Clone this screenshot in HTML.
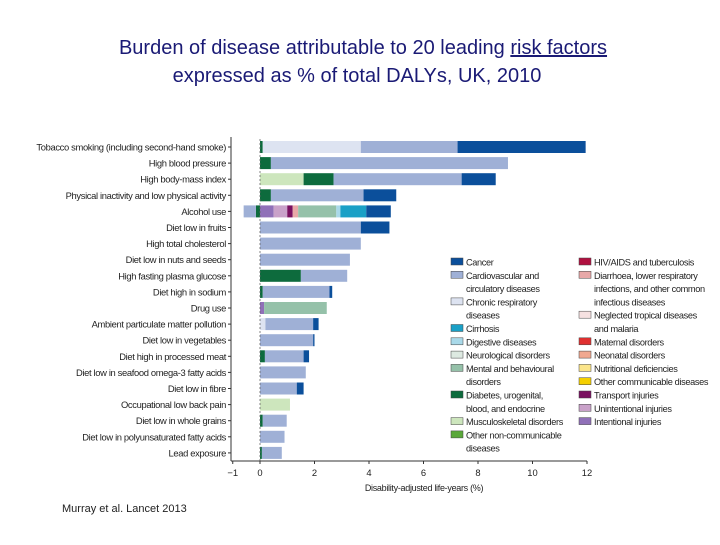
<!DOCTYPE html>
<html><head><meta charset="utf-8"><style>
body{margin:0;background:#fff;width:720px;height:540px;overflow:hidden;font-family:"Liberation Sans",sans-serif}
</style></head><body>
<svg id="chart" width="720" height="540" xmlns="http://www.w3.org/2000/svg" font-family="Liberation Sans, sans-serif">
<text x="363" y="54" text-anchor="middle" font-size="20" fill="#1a1a75">Burden of disease attributable to 20 leading <tspan text-decoration="underline">risk factors</tspan></text>
<text x="357" y="82" text-anchor="middle" font-size="20" fill="#1a1a75">expressed as % of total DALYs, UK, 2010</text>
<text x="62" y="512" font-size="11" fill="#222">Murray et al. Lancet 2013</text>
<g id="plot"></g>
<g id="legend"></g>
</svg>
<script>
const categories=["Tobacco smoking (including second-hand smoke)","High blood pressure","High body-mass index","Physical inactivity and low physical activity","Alcohol use","Diet low in fruits","High total cholesterol","Diet low in nuts and seeds","High fasting plasma glucose","Diet high in sodium","Drug use","Ambient particulate matter pollution","Diet low in vegetables","Diet high in processed meat","Diet low in seafood omega-3 fatty acids","Diet low in fibre","Occupational low back pain","Diet low in whole grains","Diet low in polyunsaturated fatty acids","Lead exposure"];
const musculo=[0,0,1.6,0,0,0,0,0,0,0,0,0,0,0,0,0,1.1,0,0,0];
const diabetes=[0.1,0.4,1.1,0.4,0,0,0,0,1.5,0.1,0,0,0,0.18,0,0,0,0.1,0,0.07];
const chronic=[3.6,0,0,0,0,0,0,0,0,0,0,0.2,0,0,0,0,0,0,0,0];
const intentional=[0,0,0,0,0.5,0,0,0,0,0,0.15,0,0,0,0,0,0,0,0,0];
const unintentional=[0,0,0,0,0.5,0,0,0,0,0,0,0,0,0,0,0,0,0,0,0];
const transport=[0,0,0,0,0.2,0,0,0,0,0,0,0,0,0,0,0,0,0,0,0];
const diarrhoea=[0,0,0,0,0.2,0,0,0,0,0,0,0,0,0,0,0,0,0,0,0];
const mental=[0,0,0,0,1.4,0,0,0,0,0,2.3,0,0,0,0,0,0,0,0,0];
const digestive=[0,0,0,0,0.15,0,0,0,0,0,0,0,0,0,0,0,0,0,0,0];
const cirrhosis=[0,0,0,0,0.95,0,0,0,0,0,0,0,0,0,0,0,0,0,0,0];
const cardio=[3.55,8.7,4.7,3.4,0,3.7,3.7,3.3,1.7,2.45,0,1.75,1.95,1.42,1.68,1.35,0,0.88,0.9,0.73];
const cancer=[4.7,0,1.25,1.2,0.9,1.05,0,0,0,0.1,0,0.2,0.05,0.2,0,0.25,0,0,0,0];
const diabetesNeg=[0,0,0,0,0.15,0,0,0,0,0,0,0,0,0,0,0,0,0,0,0];
const cardioNeg=[0,0,0,0,0.45,0,0,0,0,0,0,0,0,0,0,0,0,0,0,0];
const xTicks=[-1,0,2,4,6,8,10,12];

const C={cancer:"#0b4f9b",cardio:"#9fb0d6",chronic:"#dde3f1",cirrhosis:"#1aa0c6",digestive:"#a9d9e9",neuro:"#dde9e1",mental:"#95c1a9",diabetes:"#0d6b3d",musculo:"#cde6bd",otherncd:"#5aa83a",hiv:"#b01040",diarrhoea:"#e8a8a8",ntd:"#f6e1e1",maternal:"#e03030",neonatal:"#f0a890",nutri:"#fbe58a",othercomm:"#f5d000",transport:"#7a1060",unint:"#c9a1c9",intent:"#9070b8"};
const posSeries=[["musculo",musculo],["diabetes",diabetes],["chronic",chronic],["intent",intentional],["unint",unintentional],["transport",transport],["diarrhoea",diarrhoea],["mental",mental],["digestive",digestive],["cirrhosis",cirrhosis],["cardio",cardio],["cancer",cancer]];
const negSeries=[["diabetes",diabetesNeg],["cardio",cardioNeg]];

const NS="http://www.w3.org/2000/svg";
const x=v=>260+v*27.25;
const y=i=>141+i*16.1;
const plot=document.getElementById("plot");
function mk(tag,attrs,parent){const e=document.createElementNS(NS,tag);for(const k in attrs)e.setAttribute(k,attrs[k]);(parent||plot).appendChild(e);return e;}

categories.forEach((c,i)=>{
  const t=mk("text",{x:226,y:y(i)+9.5,"text-anchor":"end","font-size":"9.4","letter-spacing":"-0.35",fill:"#222"});
  t.textContent=c;
  
  
  let acc=0;
  posSeries.forEach(([k,arr])=>{const v=arr[i];if(v>0){
    const r=mk("rect",{x:x(acc),y:y(i),width:x(acc+v)-x(acc),height:12,fill:C[k]});
    
    
    acc+=v;}});
  let nacc=0;
  negSeries.forEach(([k,arr])=>{const v=arr[i];if(v>0){
    const r=mk("rect",{x:x(-(nacc+v)),y:y(i),width:x(-nacc)-x(-(nacc+v)),height:12,fill:C[k]});
    
    
    nacc+=v;}});
});
const ya=mk("line",{x1:231,y1:137,x2:231,y2:461,stroke:"#333","stroke-width":1});


categories.forEach((c,i)=>{const tk=mk("line",{x1:228,x2:231,y1:y(i)+6,y2:y(i)+6,stroke:"#333"});
  
  });
const zl=mk("line",{x1:x(0),y1:139,x2:x(0),y2:461,stroke:"#666","stroke-dasharray":"2,2","stroke-width":0.8});


const xa=mk("line",{x1:231,y1:461,x2:x(12),y2:461,stroke:"#333"});


xTicks.forEach(v=>{
  const tk=mk("line",{x1:x(v),x2:x(v),y1:461,y2:464,stroke:"#333"});
  
  
  const t=mk("text",{x:x(v),y:476,"text-anchor":"middle","font-size":"9.4",fill:"#222"});
  t.textContent=v<0?"\u22121":String(v);
  
  
});
const xt=mk("text",{x:424,y:491,"text-anchor":"middle","font-size":"9","letter-spacing":"-0.3",fill:"#222"});
xt.textContent="Disability-adjusted life-years (%)";



const leg=document.getElementById("legend");
const col1=[["cancer",["Cancer"]],["cardio",["Cardiovascular and","circulatory diseases"]],["chronic",["Chronic respiratory","diseases"]],["cirrhosis",["Cirrhosis"]],["digestive",["Digestive diseases"]],["neuro",["Neurological disorders"]],["mental",["Mental and behavioural","disorders"]],["diabetes",["Diabetes, urogenital,","blood, and endocrine"]],["musculo",["Musculoskeletal disorders"]],["otherncd",["Other non-communicable","diseases"]]];
const col2=[["hiv",["HIV/AIDS and tuberculosis"]],["diarrhoea",["Diarrhoea, lower respiratory","infections, and other common","infectious diseases"]],["ntd",["Neglected tropical diseases","and malaria"]],["maternal",["Maternal disorders"]],["neonatal",["Neonatal disorders"]],["nutri",["Nutritional deficiencies"]],["othercomm",["Other communicable diseases"]],["transport",["Transport injuries"]],["unint",["Unintentional injuries"]],["intent",["Intentional injuries"]]];
function drawCol(items,sx){
  let ly=258;
  items.forEach(([k,lines])=>{
    const r=mk("rect",{x:sx,y:ly,width:12,height:7,fill:C[k],stroke:"#444","stroke-width":0.5},leg);
    
    
    lines.forEach((l,j)=>{
      const t=mk("text",{x:sx+15,y:ly+7.5+j*13.3,"font-size":"9.2","letter-spacing":"-0.35",fill:"#222"},leg);
      t.textContent=l;
      
      
    });
    ly+=13.3*lines.length;
  });
}
drawCol(col1,451);
drawCol(col2,579);
</script>
</body></html>
